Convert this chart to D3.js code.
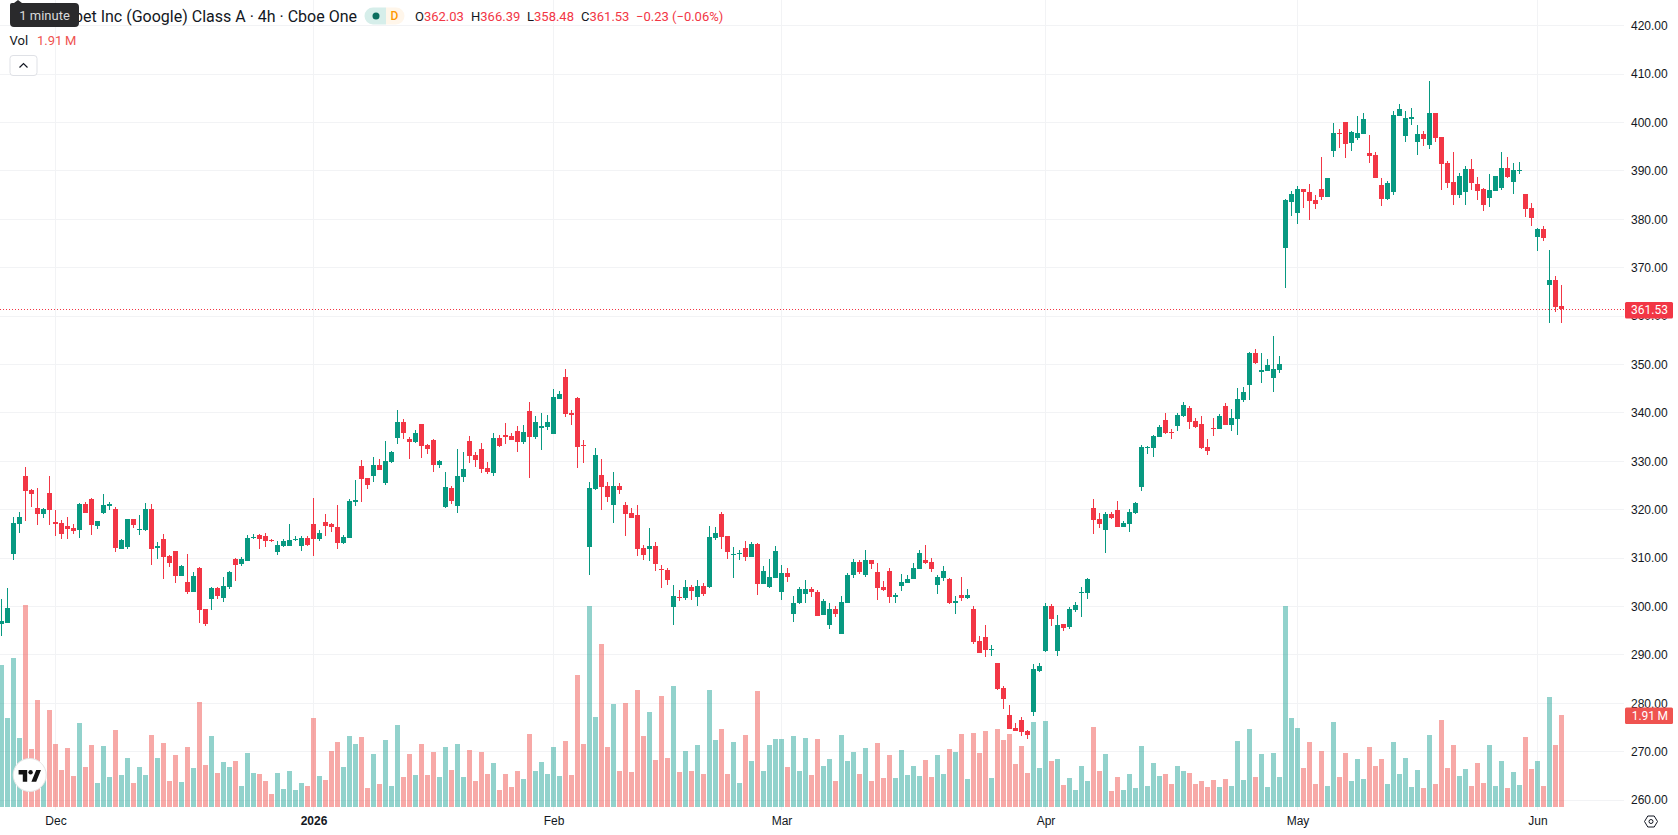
<!DOCTYPE html>
<html>
<head>
<meta charset="utf-8">
<title>GOOGL 4h</title>
<script src="https://cdn.jsdelivr.net/npm/d3@7/dist/d3.min.js"></script>
<style>
  html, body { margin: 0; padding: 0; background: #fff; }
  svg { display: block; font-family: "Roboto", "Noto Sans", sans-serif; }
  .price-axis text, .time-axis text { fill: #131722; font-size: 12px; }
</style>
</head>
<body>
<svg id="chart" width="1678" height="835"></svg>
<script>
// Four-hour bars, oldest first
const opens = [
296.39,296.53,310.79,316.99,326.91,324.02,320.30,319.06,323.40,317.41,
317.20,316.58,316.17,315.75,321.13,322.16,316.58,319.27,320.71,320.09,
311.83,312.24,318.03,315.82,315.75,320.09,312.03,313.89,310.38,311.41,
306.24,305.00,302.94,307.90,299.42,301.49,303.76,301.70,303.97,309.76,
308.73,309.35,314.10,314.72,314.51,313.69,311.21,312.45,312.45,313.69,
312.45,314.10,316.99,313.89,317.41,316.99,316.37,313.07,314.10,321.54,
328.98,326.50,326.91,329.19,325.47,329.81,334.77,338.08,334.57,333.95,
337.67,333.33,334.36,329.20,320.52,324.44,320.72,326.72,334.16,331.26,
332.50,328.58,327.54,334.78,335.40,335.19,336.22,333.95,340.36,334.98,
336.84,337.05,335.60,342.84,347.39,339.94,343.05,333.33,312.25,324.24,
327.13,324.86,320.93,324.86,320.93,319.27,318.86,312.04,311.83,312.45,
307.70,307.49,299.85,301.91,301.71,303.98,301.91,304.19,303.98,314.11,
319.07,314.52,310.66,310.87,312.04,310.18,312.87,304.60,303.98,305.84,
302.95,306.87,298.40,300.67,302.53,303.57,302.95,298.16,296.10,299.40,
294.24,300.64,306.43,309.12,306.43,309.53,307.05,303.95,307.26,301.88,
304.16,304.78,305.60,307.67,309.53,309.12,304.36,305.81,305.60,300.64,
302.30,301.68,299.40,292.79,293.62,290.93,288.24,283.07,277.49,274.81,
276.46,274.19,278.11,286.59,290.72,300.02,290.72,296.30,295.68,299.20,
302.71,302.71,320.30,318.03,315.75,319.06,319.89,316.37,316.99,319.27,
324.64,332.77,332.70,334.98,338.49,336.01,337.25,339.32,340.97,338.28,
337.66,332.91,336.84,336.63,341.38,337.46,338.70,342.62,345.72,352.34,
348.41,348.62,347.17,348.82,374.11,383.62,381.34,386.30,385.68,384.03,
386.30,384.65,394.16,397.88,400.15,395.81,396.84,397.67,393.74,393.33,
387.13,384.24,385.68,401.39,397.26,400.77,396.02,397.67,395.40,402.01,
397.05,391.68,387.75,385.06,385.68,390.44,387.34,386.30,384.44,385.89,
386.51,390.64,387.75,390.09,385.27,382.38,376.38,378.03,366.45,367.48,
362.03];
const closes = [
296.94,299.63,317.20,318.44,323.81,323.19,319.06,320.09,319.89,316.99,
314.93,315.96,315.55,321.13,319.27,316.79,317.61,320.92,321.13,312.03,
313.69,318.03,316.79,315.96,320.09,311.83,312.45,310.17,308.93,306.24,
308.31,302.94,306.24,299.22,296.32,303.76,302.11,304.18,307.07,308.52,
309.76,314.10,314.31,313.89,313.48,313.48,312.65,313.48,313.69,313.89,
314.10,312.65,313.89,315.13,316.58,316.37,313.07,314.31,321.75,321.95,
326.29,325.05,329.19,328.15,330.02,331.88,338.08,335.81,333.95,335.81,
333.12,332.50,329.20,330.02,324.65,321.76,326.92,328.37,331.06,330.23,
328.37,327.75,334.78,333.12,334.98,334.36,333.95,336.02,334.98,338.08,
337.26,338.08,343.25,343.87,339.74,339.53,332.92,333.12,324.44,331.26,
324.65,322.58,324.86,324.03,319.07,318.24,311.83,310.59,312.45,308.73,
307.49,305.43,302.12,301.71,303.98,303.15,304.19,302.53,314.31,315.14,
314.31,311.21,310.80,311.01,310.18,312.87,304.60,307.29,306.05,311.42,
306.87,306.05,300.67,303.57,303.57,302.95,297.98,301.06,299.40,298.37,
300.85,306.43,309.12,307.05,309.53,308.70,303.74,303.33,301.88,302.30,
304.98,305.60,307.88,310.98,308.91,307.67,306.02,307.26,300.64,301.06,
301.68,302.30,292.58,290.31,290.93,291.13,282.87,280.80,274.60,274.19,
273.98,273.36,287.00,287.62,300.02,297.34,296.10,295.48,299.40,300.23,
302.92,305.60,317.82,316.99,319.06,318.23,316.37,317.20,319.47,321.33,
332.91,332.91,335.18,337.04,335.80,335.80,339.52,341.59,338.08,337.04,
332.70,332.08,336.70,339.32,337.46,338.90,342.83,344.28,352.34,350.27,
348.82,349.86,349.03,350.07,384.03,385.27,386.30,385.68,383.82,383.20,
384.65,388.58,397.88,397.74,395.60,398.08,397.88,400.77,393.12,388.58,
384.24,387.54,401.60,402.84,400.98,401.19,397.67,396.64,402.01,396.84,
391.47,387.54,385.06,388.99,390.44,387.54,385.89,383.00,386.10,388.99,
390.64,388.78,390.23,390.23,382.17,380.31,378.03,376.17,367.48,361.76,
361.53];
const highs = [
301.49,303.76,318.44,319.47,328.78,324.23,324.43,320.30,326.91,319.89,
317.82,318.44,316.99,321.33,321.54,322.37,317.61,323.19,321.54,320.51,
313.89,318.03,318.03,318.85,321.33,321.13,313.27,314.93,310.59,311.41,
308.52,310.79,307.07,308.11,299.42,303.97,303.97,306.04,307.28,309.97,
310.17,314.72,314.93,314.93,315.13,313.89,313.48,313.89,316.99,314.51,
314.51,314.51,322.37,315.75,319.06,317.20,320.92,314.72,322.16,326.09,
330.22,326.50,330.84,330.43,334.15,332.08,340.60,338.70,334.98,336.43,
337.67,333.54,334.57,330.23,327.75,324.86,332.50,331.88,335.19,331.88,
333.74,329.82,335.81,335.40,337.88,335.81,337.26,337.46,342.22,339.32,
339.94,339.53,344.91,344.49,349.04,340.56,343.25,334.36,325.68,332.71,
330.44,325.68,327.75,325.48,321.55,320.31,320.93,312.66,316.17,313.28,
308.53,307.91,304.39,303.36,305.43,304.39,305.43,304.81,316.59,316.38,
319.48,314.52,312.25,311.63,313.49,313.28,313.07,308.32,309.77,312.45,
308.53,307.91,302.12,303.98,305.43,303.98,303.36,301.47,300.64,300.02,
302.09,306.84,309.74,309.53,311.60,309.53,308.91,305.19,307.88,302.71,
306.64,306.43,308.91,311.60,312.63,309.94,306.43,308.29,305.81,302.09,
306.02,303.54,300.02,293.82,296.10,291.96,288.24,283.49,279.56,275.84,
277.08,274.39,288.03,288.24,300.64,300.44,298.16,296.30,299.82,300.85,
303.95,305.81,322.16,319.27,319.47,319.47,321.75,317.61,320.09,321.54,
333.32,333.12,335.39,337.46,339.94,336.63,339.94,342.21,341.38,338.90,
339.32,334.56,338.90,339.73,342.00,340.76,345.10,345.31,352.55,353.17,
352.34,351.10,355.85,351.72,384.24,385.89,386.92,386.30,387.34,385.06,
392.92,388.58,399.94,398.70,400.15,398.29,401.39,402.01,397.46,393.95,
388.58,387.96,402.43,403.87,402.43,403.05,399.53,398.29,408.63,402.01,
397.05,392.09,393.95,389.61,391.06,392.50,388.78,386.51,389.40,388.99,
393.95,392.92,391.68,391.88,385.27,383.41,378.24,378.65,373.68,368.31,
366.39];
const lows = [
293.84,296.53,309.55,315.13,317.61,320.51,316.79,318.23,316.79,314.51,
313.89,313.89,314.93,314.10,319.27,314.72,315.96,319.06,319.89,311.21,
311.83,311.83,316.17,314.72,315.55,308.52,309.76,305.62,308.11,304.80,
306.24,302.52,302.94,296.53,295.91,299.22,301.49,300.87,303.56,305.21,
308.31,309.35,313.89,311.83,312.24,313.27,310.59,312.24,312.45,313.48,
311.41,312.45,310.38,313.48,314.51,315.34,311.83,312.86,314.10,320.71,
321.54,324.23,325.67,328.15,325.05,329.60,333.53,334.57,330.44,333.74,
330.64,331.47,327.75,328.58,320.31,321.14,319.27,325.68,329.61,328.78,
327.54,327.34,326.92,332.92,333.54,334.36,331.88,333.54,326.51,334.57,
332.30,336.43,335.60,342.84,339.12,337.46,328.58,329.61,306.46,324.03,
319.89,321.55,317.21,323.20,314.52,318.24,310.39,309.56,309.35,307.29,
303.77,304.39,296.12,301.09,301.29,301.29,300.05,302.12,303.77,313.69,
311.83,309.77,305.84,309.56,309.35,310.18,302.33,304.60,303.77,305.84,
301.29,305.01,296.74,300.47,300.67,301.91,297.98,298.16,295.27,297.75,
294.24,300.64,305.81,306.64,306.02,307.67,301.26,303.12,300.64,300.64,
303.12,304.78,305.60,307.67,308.70,307.05,302.50,305.19,300.44,298.37,
301.06,301.47,292.17,290.31,289.48,289.69,282.66,278.73,274.60,274.19,
273.15,272.53,277.29,286.38,290.51,295.89,289.69,294.86,295.27,298.78,
297.75,301.47,314.93,316.17,311.00,318.03,316.37,316.37,315.34,319.06,
323.81,331.46,330.84,334.98,335.60,334.56,336.22,339.11,336.63,336.84,
332.50,331.26,335.18,336.63,337.46,336.22,335.39,342.21,342.62,350.07,
346.14,348.62,344.28,348.20,365.84,380.72,379.07,382.38,379.89,382.17,
384.03,384.65,392.92,394.78,392.71,394.16,396.43,397.67,391.68,388.58,
382.79,384.03,385.06,401.39,396.02,399.53,393.33,395.19,394.57,396.02,
386.10,386.51,383.00,384.44,383.00,386.10,384.03,381.76,382.58,385.89,
386.10,388.58,385.27,389.40,380.52,378.65,373.49,375.55,358.60,360.87,
358.48];
// Volume per bar, in millions of shares
const volumes = [
2.95,1.85,3.09,1.43,4.19,1.20,2.22,0.56,2.01,1.31,
0.77,1.22,0.64,1.74,0.83,1.29,0.50,1.27,0.62,1.60,
0.66,1.02,0.50,0.83,0.66,1.49,1.02,1.33,0.54,1.08,
0.52,1.24,0.81,2.18,0.87,1.47,0.71,0.93,0.83,0.95,
0.44,1.12,0.71,0.68,0.54,0.27,0.71,0.37,0.75,0.35,
0.50,0.44,1.85,0.64,0.56,1.16,1.35,0.83,1.47,1.31,
1.45,0.39,1.10,0.48,1.39,0.44,1.70,0.62,1.10,0.66,
1.31,0.66,1.14,0.62,1.24,0.77,1.31,0.62,1.18,0.54,
1.14,0.68,0.91,0.35,0.68,0.41,0.75,0.58,1.51,0.75,
0.93,0.68,1.24,0.64,1.37,0.66,2.74,1.31,4.17,1.87,
3.38,1.24,2.14,0.75,2.16,0.73,2.43,1.47,1.97,0.98,
2.30,1.02,2.51,0.73,1.16,0.75,1.29,0.68,2.43,1.39,
1.62,0.68,1.35,0.50,1.49,0.95,2.41,0.75,1.29,1.41,
1.41,0.83,1.47,0.75,1.43,0.66,1.41,0.85,1.00,0.54,
1.49,0.95,1.14,0.68,1.22,0.54,1.33,0.60,1.08,0.60,
1.18,0.66,0.85,0.64,0.98,0.62,1.08,0.68,1.20,1.14,
1.51,0.58,1.54,1.12,1.58,0.60,1.62,1.39,1.51,0.89,
1.27,0.71,1.76,0.81,1.78,0.95,1.00,0.46,0.60,0.35,
0.85,0.54,1.66,0.75,1.10,0.33,0.62,0.35,0.68,0.39,
1.27,0.44,0.91,0.64,0.68,0.48,0.85,0.75,0.71,0.48,
0.54,0.41,0.56,0.41,0.58,0.44,1.37,0.56,1.62,0.62,
1.10,0.41,1.12,0.62,4.17,1.85,1.64,0.81,1.35,0.48,
1.16,0.44,1.76,0.62,1.12,0.54,1.00,0.58,1.24,0.85,
1.00,0.48,1.35,0.68,1.02,0.41,0.77,0.39,1.49,0.48,
1.80,0.81,1.29,0.64,0.79,0.44,0.91,0.50,1.29,0.44,
0.95,0.39,0.73,0.46,1.45,0.79,0.95,0.44,2.28,1.29,
1.91];

// Axis labels
const timeTickBars = [9, 52, 92, 130, 174, 216, 256];
const timeTickLabels = ["Dec", "2026", "Feb", "Mar", "Apr", "May", "Jun"];
const priceTicks = d3.range(260, 421, 10);

// Legend readings for the latest bar
const symbolTitle = "Alphabet Inc (Google) Class A · 4h · Cboe One";
const lastOpen = "362.03", lastHigh = "366.39", lastLow = "358.48", lastClose = "361.53";
const lastChange = "−0.23 (−0.06%)";
const lastVolume = "1.91\u2009M";

const UP = "#089981", DOWN = "#f23645";
const UP_VOL = "rgba(38,166,154,0.5)", DOWN_VOL = "rgba(239,83,80,0.5)";
const GRID = "#f2f3f5", PANE_RIGHT = 1624, PANE_BOTTOM = 810;

const svg = d3.select("#chart");
const bars = d3.range(opens.length);

const x = d3.scaleLinear().domain([0, 260]).range([1.5, 1561.5]);
const y = d3.scaleLinear().domain([260, 420]).range([800, 25.6]);
const yVol = d3.scaleLinear().domain([0, 4.17]).range([807, 606]);

const rising = i => closes[i] >= opens[i];

// Grid
const grid = svg.append("g").attr("shape-rendering", "crispEdges").attr("stroke", GRID);
grid.selectAll(".h").data(priceTicks).join("line")
  .attr("x1", 0).attr("x2", PANE_RIGHT)
  .attr("y1", d => Math.floor(y(d)) + 0.5).attr("y2", d => Math.floor(y(d)) + 0.5);
grid.selectAll(".v").data(timeTickBars).join("line")
  .attr("y1", 0).attr("y2", PANE_BOTTOM)
  .attr("x1", d => x(d)).attr("x2", d => x(d));

// Volume columns sit under the candles
svg.append("g").attr("shape-rendering", "crispEdges")
  .selectAll("rect").data(bars).join("rect")
  .attr("x", i => x(i) - 2.5)
  .attr("width", 5)
  .attr("y", i => Math.round(yVol(volumes[i])))
  .attr("height", i => yVol(0) - Math.round(yVol(volumes[i])))
  .attr("fill", i => rising(i) ? UP_VOL : DOWN_VOL);

// Wicks and bodies
const candles = svg.append("g").attr("shape-rendering", "crispEdges");
candles.selectAll(".wick").data(bars).join("rect")
  .attr("x", i => x(i) - 0.5)
  .attr("width", 1)
  .attr("y", i => Math.round(y(highs[i])))
  .attr("height", i => Math.max(1, Math.round(y(lows[i])) - Math.round(y(highs[i]))))
  .attr("fill", i => rising(i) ? UP : DOWN);
candles.selectAll(".body").data(bars).join("rect")
  .attr("x", i => x(i) - 2.5)
  .attr("width", 5)
  .attr("y", i => Math.round(y(Math.max(opens[i], closes[i]))))
  .attr("height", i => Math.max(1, Math.round(y(Math.min(opens[i], closes[i]))) - Math.round(y(Math.max(opens[i], closes[i])))))
  .attr("fill", i => rising(i) ? UP : DOWN);

// Last-price dotted line
const lastY = Math.round(y(+lastClose)) + 0.5;
svg.append("line")
  .attr("x1", 0).attr("x2", PANE_RIGHT + 1).attr("y1", lastY).attr("y2", lastY)
  .attr("stroke", DOWN).attr("stroke-width", 1).attr("stroke-dasharray", "1 2")
  .attr("shape-rendering", "crispEdges");

// Price axis
const priceAxis = svg.append("g").attr("class", "price-axis")
  .attr("transform", `translate(${PANE_RIGHT},0)`)
  .call(d3.axisRight(y).tickValues(priceTicks).tickSize(0).tickPadding(7).tickFormat(d3.format(".2f")));
priceAxis.select(".domain").remove();

// Time axis
const timeAxis = svg.append("g").attr("class", "time-axis")
  .attr("transform", `translate(0,${PANE_BOTTOM})`)
  .call(d3.axisBottom(x).tickValues(timeTickBars).tickSize(0).tickPadding(6)
    .tickFormat((d, i) => timeTickLabels[i]));
timeAxis.select(".domain").remove();
timeAxis.selectAll("text").attr("font-weight", (d, i) => timeTickLabels[i] === "2026" ? 700 : 400);

// Value tags on the price axis
function valueTag(cy, label, fill) {
  svg.append("rect").attr("x", 1625).attr("y", cy - 8).attr("width", 48).attr("height", 16.5)
    .attr("rx", 1.5).attr("fill", fill);
  svg.append("text").attr("x", 1668).attr("y", cy).attr("dy", "0.35em")
    .attr("text-anchor", "end").attr("font-size", 12).attr("fill", "#fff").text(label);
}
valueTag(310, lastClose, DOWN);
valueTag(715.5, lastVolume, "#ef5350");

// Legend: symbol line
const legendY = 16.5;
svg.append("text").attr("x", 357).attr("y", legendY).attr("dy", "0.35em")
  .attr("text-anchor", "end").attr("font-size", 16).attr("fill", "#131722").text(symbolTitle);

// Market-status pill
svg.append("path").attr("d", "M386 7.5H373a8.5 8.5 0 0 0 0 17H386Z").attr("fill", "#d6eeea");
svg.append("path").attr("d", "M386 7.5H396a8.5 8.5 0 0 1 0 17H386Z").attr("fill", "#fff6ea");
svg.append("circle").attr("cx", 376).attr("cy", 16).attr("r", 3.5).attr("fill", "#0b6e5f");
svg.append("text").attr("x", 394.5).attr("y", 16).attr("dy", "0.35em").attr("text-anchor", "middle")
  .attr("font-size", 12).attr("font-weight", 500).attr("fill", "#ff9800").text("D");

// OHLC readout
const ohlc = [
  { key: "O", value: lastOpen, at: 415 },
  { key: "H", value: lastHigh, at: 471 },
  { key: "L", value: lastLow, at: 527 },
  { key: "C", value: lastClose, at: 581 }
];
ohlc.forEach(d => {
  const t = svg.append("text").attr("x", d.at).attr("y", legendY).attr("dy", "0.35em").attr("font-size", 13);
  t.append("tspan").attr("fill", "#131722").text(d.key);
  t.append("tspan").attr("fill", DOWN).text(d.value);
});
svg.append("text").attr("x", 636).attr("y", legendY).attr("dy", "0.35em")
  .attr("font-size", 13).attr("fill", DOWN).text(lastChange);

// Legend: volume line
svg.append("text").attr("x", 9.5).attr("y", 40.5).attr("dy", "0.35em")
  .attr("font-size", 13).attr("fill", "#131722").text("Vol");
svg.append("text").attr("x", 37).attr("y", 40.5).attr("dy", "0.35em")
  .attr("font-size", 13).attr("fill", "#ef5350").text(lastVolume);

// Collapse button
svg.append("rect").attr("x", 10).attr("y", 55.5).attr("width", 27).attr("height", 20)
  .attr("rx", 3).attr("fill", "#fff").attr("stroke", "#dfe1e6");
svg.append("path").attr("d", "M19.5 67.5 L23.5 63.5 L27.5 67.5").attr("fill", "none")
  .attr("stroke", "#131722").attr("stroke-width", 1.2);

// Tooltip over the symbol line
svg.append("path")
  .attr("d", "M12 3H14L18 0L22 3H75a4 4 0 0 1 4 4V23a4 4 0 0 1 -4 4H14a4 4 0 0 1 -4 -4V5a2 2 0 0 1 2 -2Z")
  .attr("fill", "#2a2a2c");
svg.append("text").attr("x", 44.5).attr("y", 15.5).attr("dy", "0.35em").attr("text-anchor", "middle")
  .attr("font-size", 13).attr("fill", "#d9dadb").text("1 minute");

// Brand badge
svg.append("circle").attr("cx", 29.7).attr("cy", 775).attr("r", 16.5)
  .attr("fill", "#fff").attr("stroke", "#e6e6e6").attr("stroke-width", 1);
svg.append("path").attr("fill", "#131313")
  .attr("d", "M18.6 770H27.2V781.7H22.8V774.4H18.6Z M41 770L36.2 781.7H31.4L36.2 770Z");
svg.append("circle").attr("cx", 30.6).attr("cy", 772.2).attr("r", 2.2).attr("fill", "#131313");

// Settings glyph in the axis corner
svg.append("path")
  .attr("d", "M1644.5 821.5L1647.8 816H1654.2L1657.5 821.5L1654.2 827H1647.8Z")
  .attr("fill", "none").attr("stroke", "#131722").attr("stroke-width", 1);
svg.append("circle").attr("cx", 1651).attr("cy", 821.5).attr("r", 2)
  .attr("fill", "none").attr("stroke", "#131722").attr("stroke-width", 1);
</script>
</body>
</html>
